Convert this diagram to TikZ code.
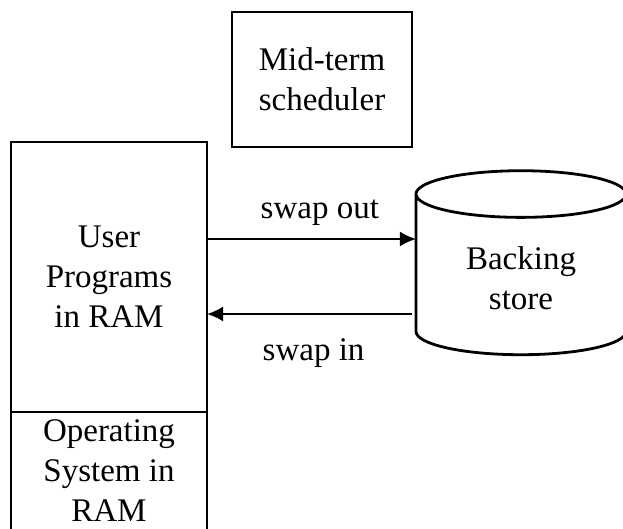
\documentclass[tikz,border=0pt]{standalone}
\usepackage{fontspec}
\setmainfont{Liberation Serif}
\usetikzlibrary{shapes.geometric, positioning, arrows.meta}

\begin{document}
\begin{tikzpicture}[x=1pt, y=1pt, font=\fontsize{33}{40}\selectfont, line width=2.8pt,
  box/.style={draw, align=center, inner sep=0pt, outer sep=0pt},
  swap/.style={line width=2.2pt, -{Latex[length=16pt, width=15pt]}},
  lbl/.style={inner sep=0pt}]
\useasboundingbox (0,0) rectangle (623,528);
\clip (0,0) rectangle (623,528);
\node[box, minimum width=196pt, minimum height=270pt] (uprog) at (109,251) {User\\Programs\\in RAM};
\node[box, minimum width=196pt, minimum height=118pt, below=0pt of uprog] (os) {Operating\\System in\\RAM};
\node[box, minimum width=180pt, minimum height=135pt] (sched) at (322,448.5) {Mid-term\\scheduler};
\node[cylinder, draw, align=center, outer sep=0pt, shape border rotate=90, aspect=0.4,
  minimum width=210pt, minimum height=184pt] (store) at (521,250) {Backing\\store};
% swap arrows
\draw[swap] ([yshift=38pt]uprog.east) -- ([yshift=38pt]uprog.east -| store.west)
  node[lbl, pos=0.54, above=12pt] {swap out};
\draw[swap] ([xshift=-4pt, yshift=-37pt]uprog.east -| store.west) -- ([yshift=-37pt]uprog.east)
  node[lbl, pos=0.48, below=24pt] {swap in};
\end{tikzpicture}
\end{document}
